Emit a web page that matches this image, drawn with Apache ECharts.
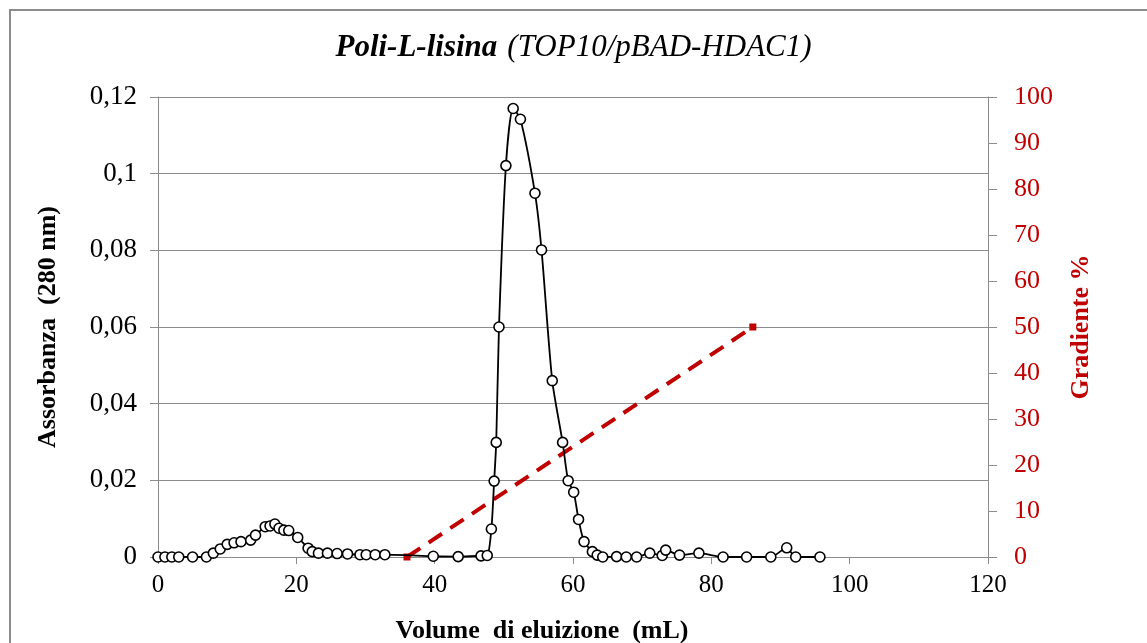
<!DOCTYPE html>
<html>
<head>
<meta charset="utf-8">
<script src="https://cdn.jsdelivr.net/npm/echarts@6/dist/echarts.min.js"></script>
<style>html,body{margin:0;padding:0;background:#fff}#c{width:1147px;height:643px}</style>
</head>
<body>
<div id="c"></div>
<script>
// Absorbance data (volume mL, absorbance at 280 nm)
const volume = [0,1,2,3,5,7,8,9,10,11,12,13.4,14.1,15.5,16.2,16.9,17.5,18.2,18.9,20.2,21.7,22.3,23.2,24.5,25.9,27.4,29.2,30.1,31.4,32.8,39.8,43.4,46.7,47.6,48.2,48.6,48.9,49.3,50.3,51.35,52.4,54.5,55.45,57.0,58.5,59.3,60.1,60.8,61.6,62.8,63.5,64.3,66.3,67.7,69.2,71.1,72.9,73.4,75.4,78.2,81.7,85.1,88.6,90.9,92.2,95.7];
const absorbance = [0,0,0,0,0,0,0.001,0.0021,0.0033,0.0037,0.004,0.0044,0.0057,0.0079,0.0081,0.0086,0.0075,0.007,0.0069,0.0051,0.0023,0.0014,0.001,0.001,0.0009,0.0008,0.0006,0.0006,0.0006,0.0006,0.0002,0.0001,0.0003,0.0004,0.0073,0.0198,0.0299,0.060,0.1021,0.117,0.1142,0.0949,0.0801,0.046,0.0299,0.0199,0.0169,0.0098,0.004,0.0014,0.0005,0,0.0001,0,0,0.001,0.0004,0.0018,0.0005,0.001,0,0,0,0.0024,0,0];
// Gradient line (volume mL, %)
const gradVolume = [36, 86];
const gradPercent = [0, 50];
const xTicks = [0, 120, 20];
const yLeftTicks = [0, 0.12, 0.02];
const yRightTicks = [0, 100, 10];

const chart = echarts.init(document.getElementById('c'));
const serif = '"Liberation Serif", "Times New Roman", serif';
const gray = '#8c8c8c';
const red = '#c00000';
chart.setOption({
  animation: false,
  backgroundColor: '#fff',
  graphic: [{
    type: 'rect', shape: {x: 10, y: 10, width: 1200, height: 700},
    style: {fill: 'none', stroke: gray, lineWidth: 2}, silent: true, z: -1
  }],
  title: {
    text: '{a|Poli-L-lisina}  {b|(TOP10/pBAD-HDAC1)}',
    left: 'center', top: 27,
    textStyle: {
      rich: {
        a: {fontFamily: serif, fontSize: 31, fontWeight: 'bold', fontStyle: 'italic', color: '#000'},
        b: {fontFamily: serif, fontSize: 31, fontWeight: 'normal', fontStyle: 'italic', color: '#000'}
      }
    }
  },
  grid: {left: 158, right: 159, top: 97, bottom: 86, outerBoundsMode: 'none', containLabel: false},
  xAxis: {
    type: 'value', min: xTicks[0], max: xTicks[1], interval: xTicks[2],
    name: 'Volume  di eluizione  (mL)', nameLocation: 'middle', nameGap: 61,
    nameTextStyle: {fontFamily: serif, fontSize: 26, fontWeight: 'bold', color: '#000', padding: [0, 62, 0, 0]},
    axisLine: {lineStyle: {color: gray, width: 1}},
    axisTick: {show: true, length: 7, lineStyle: {color: gray}},
    axisLabel: {fontFamily: serif, fontSize: 25, color: '#000', margin: 16},
    splitLine: {show: false}
  },
  yAxis: [{
    type: 'value', min: yLeftTicks[0], max: yLeftTicks[1], interval: yLeftTicks[2],
    name: 'Assorbanza  (280 nm)', nameLocation: 'middle', nameGap: 97,
    nameTextStyle: {fontFamily: serif, fontSize: 26, fontWeight: 'bold', color: '#000'},
    axisLine: {show: true, lineStyle: {color: gray, width: 1}},
    axisTick: {show: true, length: 8, lineStyle: {color: gray}},
    axisLabel: {fontFamily: serif, fontSize: 27, color: '#000', margin: 21,
      formatter: v => v === 0 ? '0' : String(+v.toFixed(2)).replace('.', ',')},
    splitLine: {show: true, lineStyle: {color: gray, width: 1}}
  }, {
    type: 'value', min: yRightTicks[0], max: yRightTicks[1], interval: yRightTicks[2],
    position: 'right',
    name: 'Gradiente %', nameLocation: 'middle', nameGap: 80,
    nameTextStyle: {fontFamily: serif, fontSize: 26, fontWeight: 'bold', color: red},
    axisLine: {show: true, lineStyle: {color: gray, width: 1}},
    axisTick: {show: true, length: 9, lineStyle: {color: gray}},
    axisLabel: {fontFamily: serif, fontSize: 26, color: red, margin: 26},
    splitLine: {show: false}
  }],
  series: [{
    type: 'line', yAxisIndex: 1,
    data: gradVolume.map((x, i) => [x, gradPercent[i]]),
    symbol: 'rect', symbolSize: 7,
    itemStyle: {color: red},
    lineStyle: {color: red, width: 4, type: [16, 10]},
    z: 3
  }, {
    type: 'line', yAxisIndex: 0,
    data: volume.map((x, i) => [x, absorbance[i]]),
    smooth: 0.25,
    symbol: 'circle', symbolSize: 10, showAllSymbol: true,
    itemStyle: {color: '#fff', borderColor: '#000', borderWidth: 1.6},
    lineStyle: {color: '#000', width: 1.8},
    z: 4
  }]
});
</script>
</body>
</html>
